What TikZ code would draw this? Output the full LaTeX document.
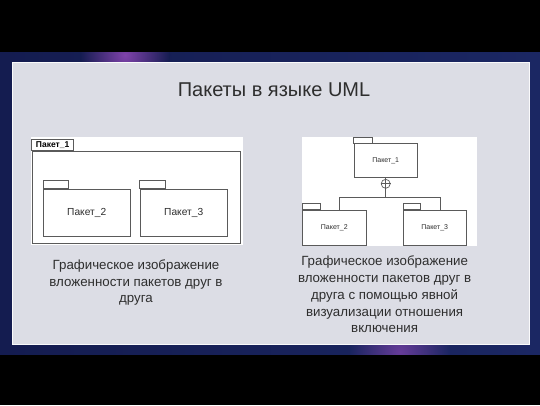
\documentclass[tikz,border=0pt]{standalone}
\usepackage{fontspec}
\setmainfont{Liberation Sans}
\usetikzlibrary{calc}
\definecolor{navy}{HTML}{1B2763}
\definecolor{navydark}{HTML}{141C50}
\definecolor{glow}{HTML}{9A4CC0}
\definecolor{panel}{HTML}{DCDDE5}
\definecolor{ink}{HTML}{2E2E2E}
\definecolor{umlline}{HTML}{5A5A5A}
\tikzset{
  pkgbody/.style={draw=umlline, line width=0.8pt, fill=white, inner sep=0pt, anchor=center},
  pkgtab/.style={draw=umlline, line width=0.8pt, fill=white},
  conn/.style={draw=umlline, line width=0.7pt},
  caption/.style={text=ink, align=center, font=\fontsize{13.3}{16.7}\selectfont},
}
\begin{document}
\begin{tikzpicture}[x=1pt, y=-1pt]
\useasboundingbox (0,0) rectangle (540,405);
% background
\fill[black] (0,0) rectangle (540,405);
\begin{scope}
\clip (0,52) rectangle (540,354);
\shade[left color=navydark, right color=navy] (0,52) rectangle (540,354);
\shade[inner color=glow, outer color=navydark, opacity=0.8] (125,55) circle (45);
\shade[inner color=glow, outer color=navy, opacity=0.6] (400,352) circle (50);
\end{scope}
% panel
\fill[panel, draw=white!85!panel, line width=0.8pt] (12,62) rectangle (529,344);
% title
\node[text=ink, font=\fontsize{20}{24}\selectfont] (title) at (274,90) {Пакеты в языке UML};
% white boxes
\fill[white] (30.7,136.7) rectangle (243,245);
\fill[white] (301.7,136.7) rectangle (477.3,245.7);
% ---- left diagram
\node[pkgbody, minimum width=208.7pt, minimum height=92pt] (p1) at (136.4,197) {};
\draw[pkgtab] (p1.north west) rectangle ++(42,-11) node[midway, text=black, font=\fontsize{8.5}{10}\selectfont\bfseries] (p1lab) {Пакет\_1};
\node[pkgbody, minimum width=86.7pt, minimum height=47.7pt, font=\fontsize{10.2}{12}\selectfont, text=ink] (p2) at (86.7,212.9) {Пакет\_2};
\draw[pkgtab] (p2.north west) rectangle ++(25.4,-8.3);
\node[pkgbody, minimum width=87.3pt, minimum height=47.7pt, font=\fontsize{10.2}{12}\selectfont, text=ink] (p3) at (183.7,212.9) {Пакет\_3};
\draw[pkgtab] (p3.north west) rectangle ++(25.3,-8.3);
% ---- right diagram
\node[pkgbody, minimum width=63.3pt, minimum height=34.4pt, font=\fontsize{7}{8}\selectfont, text=ink] (q1) at (385.7,160.5) {Пакет\_1};
\draw[pkgtab] (q1.north west) rectangle ++(18.7,-5.6);
\node[pkgbody, minimum width=63.3pt, minimum height=35pt, font=\fontsize{7}{8}\selectfont, text=ink] (q2) at (334.3,227.5) {Пакет\_2};
\draw[pkgtab] (q2.north west) rectangle ++(18,-6);
\node[pkgbody, minimum width=62.7pt, minimum height=35pt, font=\fontsize{7}{8}\selectfont, text=ink] (q3) at (434.7,227.5) {Пакет\_3};
\draw[pkgtab] (q3.north west) rectangle ++(17.4,-6);
% containment symbol
\node[circle, draw=umlline, line width=0.7pt, fill=white, minimum size=9pt, inner sep=0pt] (c) at (385.7,183.8) {};
\draw[conn] (c.north) -- (c.south) (c.west) -- (c.east);
\draw[conn] (q1.south) -- (c.north);
\coordinate (j) at (0,197.7);
\draw[conn] (c.south) -- (c.south |- j) -| ([xshift=5pt]q2.north);
\draw[conn] (c.south |- j) -| ([xshift=6pt]q3.north);
% captions
\node[caption] (cap1) at (136,282.5) {Графическое изображение\\вложенности пакетов друг в\\друга};
\node[caption] (cap2) at (384.6,294.5) {Графическое изображение\\вложенности пакетов друг в\\друга с помощью явной\\визуализации отношения\\включения};
\end{tikzpicture}
\end{document}
